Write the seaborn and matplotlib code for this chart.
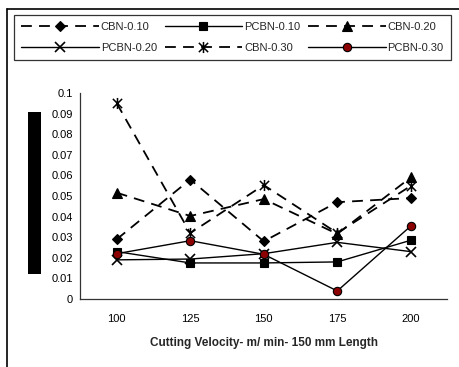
import numpy as np
import pandas as pd
import matplotlib
matplotlib.use("Agg")
import matplotlib.pyplot as plt
from matplotlib.path import Path
from matplotlib.lines import Line2D
from matplotlib.patches import Rectangle
import seaborn as sns

sns.set_theme(style="white")
plt.rcParams['font.family'] = ['Liberation Sans', 'DejaVu Sans']

velocities = ["100", "125", "150", "175", "200"]
cbn_010 = [0.029, 0.058, 0.028, 0.047, 0.049]
pcbn_010 = [0.023, 0.0175, 0.0175, 0.018, 0.0285]
cbn_020 = [0.0516, 0.0403, 0.0485, 0.0316, 0.059]
pcbn_020 = [0.019, 0.0194, 0.022, 0.0275, 0.023]
cbn_030 = [0.095, 0.032, 0.0553, 0.032, 0.0549]
pcbn_030 = [0.022, 0.0283, 0.0217, 0.0039, 0.0354]
series_names = ["CBN-0.10", "PCBN-0.10", "CBN-0.20", "PCBN-0.20", "CBN-0.30", "PCBN-0.30"]
series_values = [cbn_010, pcbn_010, cbn_020, pcbn_020, cbn_030, pcbn_030]
y_ticks = [0, 0.01, 0.02, 0.03, 0.04, 0.05, 0.06, 0.07, 0.08, 0.09, 0.1]
x_label = "Cutting Velocity- m/ min- 150 mm Length"

star = Path([(-1, -1), (1, 1), (-1, 1), (1, -1), (0, -1.2), (0, 1.2)],
            [Path.MOVETO, Path.LINETO, Path.MOVETO, Path.LINETO, Path.MOVETO, Path.LINETO])

styles = {
    "CBN-0.10": dict(marker="D", ls=(0, (6, 4)), lw=1.3, mfc="black", ms=5.5),
    "PCBN-0.10": dict(marker="s", ls="-", lw=1.0, mfc="black", ms=6),
    "CBN-0.20": dict(marker="^", ls=(0, (6, 4)), lw=1.3, mfc="black", ms=6.5),
    "PCBN-0.20": dict(marker="x", ls="-", lw=1.0, mfc="black", ms=7, mew=1.2),
    "CBN-0.30": dict(marker=star, ls=(0, (6, 4)), lw=1.3, mfc="black", ms=8, mew=1.1),
    "PCBN-0.30": dict(marker="o", ls="-", lw=1.0, mfc="#8b0000", ms=6),
}

rows = []
for name, vals in zip(series_names, series_values):
    for i, v in enumerate(vals):
        rows.append(dict(series=name, pos=i, value=v))
df = pd.DataFrame(rows)

fig = plt.figure(figsize=(4.6, 3.67), dpi=100)
ax = fig.add_axes([80/460, 1-299/367, (447.5-80)/460, (299-93)/367])

handles = {}
for name in series_names:
    st = styles[name]
    sub = df[df.series == name]
    sns.lineplot(data=sub, x="pos", y="value", ax=ax, color="black",
                 linestyle=st["ls"], linewidth=st["lw"], marker=st["marker"],
                 markersize=st["ms"], markerfacecolor=st["mfc"], markeredgecolor="black",
                 markeredgewidth=st.get("mew", 0.8), legend=False, zorder=3)
    handles[name] = Line2D([], [], color="black", linestyle=st["ls"], linewidth=st["lw"],
                           marker=st["marker"], markersize=st["ms"], markerfacecolor=st["mfc"],
                           markeredgecolor="black", markeredgewidth=st.get("mew", 0.8))

ax.set_xlim(-0.5, 4.5)
ax.set_ylim(0, 0.1)
ax.set_xticks(range(len(velocities)))
ax.set_xticklabels(velocities)
ax.set_xticks(np.arange(-0.5, 4.6, 1.0), minor=True)
ax.set_yticks(y_ticks)
ax.set_yticklabels(["0" if t == 0 else f"{t:g}" for t in y_ticks])
ax.tick_params(axis="both", which="both", direction="out", length=3, width=0.8,
               colors="black", labelsize=8)
ax.tick_params(axis="x", pad=8)
ax.tick_params(axis="y", pad=2)
for s in ["top", "right"]:
    ax.spines[s].set_visible(False)
for s in ["left", "bottom"]:
    ax.spines[s].set_color("#333333")
    ax.spines[s].set_linewidth(0.9)
ax.set_xlabel(x_label, fontsize=8.5, fontweight="bold", labelpad=9)
ax.set_ylabel("")
ax.grid(False)

# black block at left (y-axis title region)
fig.patches.append(Rectangle((28/460, 1-274/367), 13/460, 162/367, transform=fig.transFigure,
                             facecolor="black", edgecolor="none"))
# outer frame lines (left and top)
fig.lines.append(Line2D([7/460, 7/460], [0, 1-9/367], transform=fig.transFigure, color="black", lw=1.2))
fig.lines.append(Line2D([7/460, 1], [1-9/367, 1-9/367], transform=fig.transFigure, color="black", lw=1.2))

order = ["CBN-0.10", "PCBN-0.20", "PCBN-0.10", "CBN-0.30", "CBN-0.20", "PCBN-0.30"]
leg = fig.legend([handles[n] for n in order], order, ncol=3, loc="upper left",
                 bbox_to_anchor=(14/460, 1-15/367), frameon=True, fancybox=False,
                 fontsize=8, handlelength=7.0, handletextpad=0.15, columnspacing=0.7,
                 borderpad=0.65, labelspacing=0.95, borderaxespad=0)
leg.get_frame().set_edgecolor("black")
leg.get_frame().set_linewidth(0.9)

fig.savefig("out.png", dpi=100)
